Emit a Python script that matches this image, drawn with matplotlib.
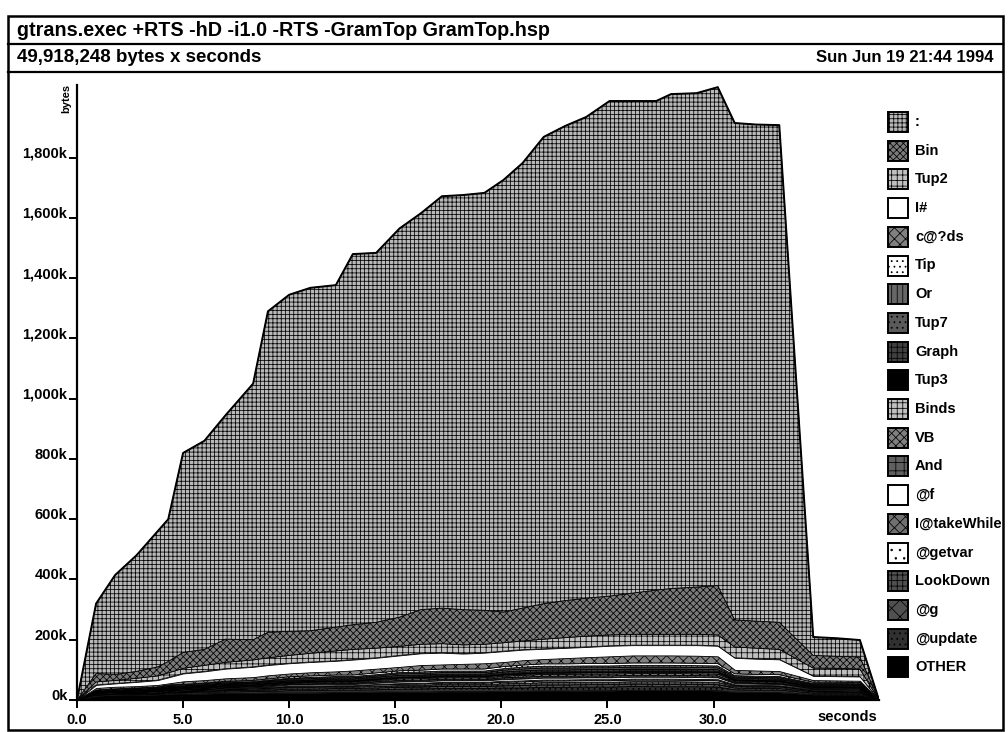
import numpy as np
import matplotlib
matplotlib.use("Agg")
import matplotlib.pyplot as plt
from matplotlib.patches import Rectangle

plt.rcParams['font.family'] = ['Liberation Sans', 'DejaVu Sans']
plt.rcParams['hatch.linewidth'] = 0.55

# ---------------- data (kilobytes) ----------------
times = [0, 0.9, 1.8, 2.8, 3.8, 4.3, 5.0, 6.0, 7.0, 8.3, 9.0, 10.0, 11.0, 12.2, 13.0,
         14.1, 15.2, 16.2, 17.2, 18.2, 19.2, 20.1, 21.0, 22.0, 23.0, 24.0, 25.1, 26.2,
         27.3, 28.0, 29.2, 30.2, 31.0, 32.0, 33.1, 34.7, 35.8, 36.9, 37.8]

# cumulative boundaries (top of each band)
total_k = [0, 320, 415, 480, 560, 600, 820, 860, 945, 1050, 1290, 1345, 1368, 1377, 1480,
           1484, 1565, 1615, 1672, 1676, 1683, 1726, 1782, 1869, 1905, 1935, 1988, 1988,
           1988, 2011, 2014, 2034, 1915, 1910, 1908, 209, 205, 199, 0]
bin_top_k = [0, 88, 85, 95, 110, 128, 158, 168, 202, 200, 225, 228, 230, 242, 250,
             258, 275, 300, 305, 300, 298, 292, 305, 320, 330, 338, 345, 355,
             365, 370, 375, 380, 266, 262, 258, 148, 145, 143, 0]
tup2_top_k = [0, 60, 65, 72, 80, 90, 105, 115, 125, 133, 140, 148, 155, 163, 168,
              172, 178, 185, 187, 183, 185, 190, 196, 202, 207, 212, 216, 218,
              218, 218, 218, 216, 176, 172, 168, 106, 105, 103, 0]
ihash_top_k = [0, 50, 55, 60, 66, 75, 88, 95, 104, 110, 116, 122, 126, 130, 134,
               140, 148, 155, 157, 154, 157, 162, 167, 170, 173, 176, 180, 182,
               182, 182, 182, 180, 140, 137, 135, 80, 79, 78, 0]
cds_top_k = [0, 40, 44, 46, 50, 55, 62, 66, 72, 76, 82, 88, 92, 95, 98,
             104, 110, 116, 118, 120, 122, 126, 132, 136, 139, 142, 145, 148,
             148, 148, 147, 145, 100, 98, 96, 66, 65, 64, 0]

# thin lower bands (thickness)
tip_k = [0, 2, 2, 2, 2, 3, 3, 3, 3, 4, 4, 5, 5, 5, 5, 6, 6, 6, 7, 7, 7, 7, 7, 8, 8, 8, 8, 8, 8, 8, 8, 8, 6, 6, 6, 4, 4, 4, 0]
or_k = [0, 1, 1, 1, 2, 2, 2, 2, 3, 3, 3, 3, 4, 4, 4, 4, 4, 5, 5, 5, 5, 5, 6, 6, 6, 6, 6, 6, 6, 6, 6, 6, 4, 4, 4, 3, 3, 3, 0]
tup7_k = [0, 1, 2, 2, 2, 2, 2, 3, 3, 3, 3, 4, 4, 4, 4, 4, 5, 5, 5, 5, 5, 6, 6, 6, 6, 6, 6, 6, 6, 6, 6, 6, 4, 4, 4, 3, 3, 3, 0]
graph_k = [0, 1, 1, 2, 2, 2, 2, 2, 3, 3, 3, 3, 4, 4, 4, 4, 5, 5, 5, 5, 5, 5, 6, 6, 6, 6, 6, 6, 6, 6, 6, 6, 4, 4, 4, 3, 3, 3, 0]
tup3_k = [0, 1, 1, 1, 1, 1, 1, 2, 2, 2, 2, 2, 2, 3, 3, 3, 3, 3, 3, 3, 3, 4, 4, 4, 4, 4, 4, 4, 4, 4, 4, 4, 3, 3, 3, 2, 2, 2, 0]
binds_k = [0, 1, 1, 1, 1, 2, 2, 2, 2, 2, 3, 3, 3, 3, 3, 4, 4, 4, 4, 4, 4, 5, 5, 5, 5, 5, 5, 5, 5, 5, 5, 5, 3, 3, 3, 2, 2, 2, 0]
vb_k = [0, 1, 1, 2, 2, 2, 2, 2, 3, 3, 3, 3, 4, 4, 4, 4, 5, 5, 5, 5, 5, 5, 6, 6, 6, 6, 6, 6, 6, 6, 6, 6, 4, 4, 4, 3, 3, 3, 0]
and_k = [0, 1, 1, 1, 1, 2, 2, 2, 2, 2, 3, 3, 3, 3, 3, 4, 4, 4, 4, 4, 4, 5, 5, 5, 5, 5, 5, 5, 5, 5, 5, 5, 3, 3, 3, 2, 2, 2, 0]
atf_k = [0, 1, 2, 2, 2, 2, 2, 2, 3, 3, 3, 4, 4, 4, 4, 4, 5, 5, 5, 5, 5, 5, 6, 6, 6, 6, 6, 6, 6, 6, 6, 6, 4, 4, 4, 3, 3, 3, 0]
takewhile_k = [0, 1, 1, 1, 1, 2, 2, 2, 2, 2, 3, 3, 3, 3, 3, 3, 4, 4, 4, 4, 4, 5, 5, 5, 5, 5, 5, 5, 5, 5, 5, 5, 4, 4, 3, 2, 2, 2, 0]
getvar_k = [0, 1, 1, 1, 2, 2, 2, 2, 2, 2, 3, 3, 3, 3, 3, 4, 4, 4, 4, 4, 4, 5, 5, 5, 5, 5, 5, 5, 5, 5, 5, 5, 3, 3, 3, 2, 2, 2, 0]
lookdown_k = [0, 2, 2, 2, 2, 3, 3, 3, 3, 4, 4, 5, 5, 5, 5, 6, 6, 6, 7, 7, 7, 7, 7, 8, 8, 8, 8, 8, 9, 9, 8, 8, 5, 5, 5, 3, 4, 3, 0]
atg_k = [0, 2, 2, 2, 2, 2, 3, 3, 4, 4, 4, 5, 5, 5, 5, 6, 6, 6, 7, 7, 7, 7, 8, 8, 8, 8, 8, 8, 8, 8, 8, 8, 6, 5, 5, 4, 3, 3, 0]
update_k = [0, 3, 3, 3, 3, 4, 4, 5, 5, 6, 6, 7, 7, 8, 8, 8, 9, 10, 10, 10, 10, 11, 11, 12, 12, 12, 12, 13, 12, 12, 12, 12, 8, 8, 8, 5, 5, 5, 0]
other_k = [0, 14, 16, 17, 18, 19, 20, 21, 22, 22, 23, 24, 24, 25, 25, 26, 27, 27, 28, 28, 28, 29, 29, 30, 30, 31, 31, 32, 32, 32, 32, 31, 26, 25, 25, 18, 18, 18, 0]

# legend order (top band first)
names = [":", "Bin", "Tup2", "I#", "c@?ds", "Tip", "Or", "Tup7", "Graph", "Tup3",
         "Binds", "VB", "And", "@f", "I@takeWhile", "@getvar", "LookDown", "@g",
         "@update", "OTHER"]

title = "gtrans.exec +RTS -hD -i1.0 -RTS -GramTop GramTop.hsp"
subtitle = "49,918,248 bytes x seconds"
date = "Sun Jun 19 21:44 1994"
ytick_vals = [0, 200, 400, 600, 800, 1000, 1200, 1400, 1600, 1800]
ytick_labels = ["0k", "200k", "400k", "600k", "800k", "1,000k", "1,200k", "1,400k", "1,600k", "1,800k"]
xtick_vals = [0, 5, 10, 15, 20, 25, 30]
xtick_labels = ["0.0", "5.0", "10.0", "15.0", "20.0", "25.0", "30.0"]

# ---------------- styles ----------------
styles = {
    ":":           ('#b8b8b8', '++++'),
    "Bin":         ('#7a7a7a', 'xxxxx'),
    "Tup2":        ('#c0c0c0', '+++'),
    "I#":          ('white', None),
    "c@?ds":       ('#808080', 'xxx'),
    "Tip":         ('white', '...'),
    "Or":          ('#666666', '|||'),
    "Tup7":        ('#5a5a5a', '...'),
    "Graph":       ('#404040', '+++'),
    "Tup3":        ('black', None),
    "Binds":       ('#c0c0c0', '+++'),
    "VB":          ('#808080', 'xxxx'),
    "And":         ('#606060', '++'),
    "@f":          ('white', None),
    "I@takeWhile": ('#707070', 'xxx'),
    "@getvar":     ('white', '..'),
    "LookDown":    ('#505050', '+++'),
    "@g":          ('#505050', 'xx'),
    "@update":     ('#303030', '...'),
    "OTHER":       ('black', None),
}

# ---------------- build band thicknesses ----------------
t = np.array(times, dtype=float)
lower = {
    "Tip": tip_k, "Or": or_k, "Tup7": tup7_k, "Graph": graph_k, "Tup3": tup3_k,
    "Binds": binds_k, "VB": vb_k, "And": and_k, "@f": atf_k,
    "I@takeWhile": takewhile_k, "@getvar": getvar_k, "LookDown": lookdown_k,
    "@g": atg_k, "@update": update_k, "OTHER": other_k,
}
lower = {k: np.array(v, dtype=float) for k, v in lower.items()}
lower_sum = sum(lower.values())
bands = dict(lower)
bands["c@?ds"] = np.maximum(np.array(cds_top_k, float) - lower_sum, 0)
bands["I#"] = np.array(ihash_top_k, float) - np.array(cds_top_k, float)
bands["Tup2"] = np.array(tup2_top_k, float) - np.array(ihash_top_k, float)
bands["Bin"] = np.array(bin_top_k, float) - np.array(tup2_top_k, float)
bands[":"] = np.array(total_k, float) - np.array(bin_top_k, float)

bottom_up = names[::-1]

# ---------------- figure ----------------
W, H = 1008, 732
fig = plt.figure(figsize=(W / 100, H / 100), dpi=100)

# overlay in pixel coordinates for frames, header and legend
ov = fig.add_axes([0, 0, 1, 1])
ov.set_xlim(0, W)
ov.set_ylim(H, 0)
ov.axis('off')
ov.patch.set_visible(False)

ov.add_patch(Rectangle((8, 16), 995, 714, fill=False, lw=1.8, ec='black'))
ov.plot([8, 1003], [44, 44], color='black', lw=1.6)
ov.plot([8, 1003], [72, 72], color='black', lw=1.6)
ov.text(17, 30, title, ha='left', va='center', fontsize=14.2, fontweight='bold')
ov.text(17, 58, subtitle, ha='left', va='center', fontsize=13.5, fontweight='bold')
ov.text(994, 58, date, ha='right', va='center', fontsize=12, fontweight='bold')

for i, name in enumerate(names):
    yc = 122 + i * 28.7
    fc, hatch = styles[name]
    ov.add_patch(Rectangle((888, yc - 10), 20, 20, facecolor=fc, hatch=hatch,
                           edgecolor='black', lw=1.4))
    ov.text(915, yc, name, ha='left', va='center', fontsize=10.5, fontweight='bold')

ov.text(66, 98, "bytes", rotation=90, ha='center', va='center', fontsize=8, fontweight='bold')

# main plot axes
px0, py0 = 77, 700
xmax = 37.8
ymax = 2040
ytop_px = py0 - ymax * 0.3013
ax = fig.add_axes([px0 / W, (H - py0) / H, (879 - px0) / W, (py0 - ytop_px) / H])
ax.set_xlim(0, xmax)
ax.set_ylim(0, ymax)
ax.patch.set_visible(False)

polys = ax.stackplot(t, *[bands[n] for n in bottom_up],
                     colors=[styles[n][0] for n in bottom_up],
                     edgecolor='black', linewidth=0.6)
for poly, n in zip(polys, bottom_up):
    h = styles[n][1]
    if h:
        poly.set_hatch(h)
ax.plot(t, total_k, color='black', lw=1.4)

for s in ['top', 'right']:
    ax.spines[s].set_visible(False)
ax.spines['left'].set_linewidth(1.6)
ax.spines['bottom'].set_linewidth(1.6)

ax.set_yticks(ytick_vals)
ax.set_yticklabels(ytick_labels, fontsize=10.5, fontweight='bold')
for lbl in ax.get_yticklabels():
    lbl.set_va('baseline')
ax.set_xticks(xtick_vals)
ax.set_xticklabels(xtick_labels, fontsize=10.5, fontweight='bold')
ax.tick_params(axis='y', direction='out', length=6, width=1.4, pad=1)
ax.tick_params(axis='x', direction='out', length=6, width=1.4, pad=3)
ax.text(36.3, -58, "seconds", ha='center', va='center', fontsize=10.5, fontweight='bold')

fig.savefig("out.png", dpi=100)
